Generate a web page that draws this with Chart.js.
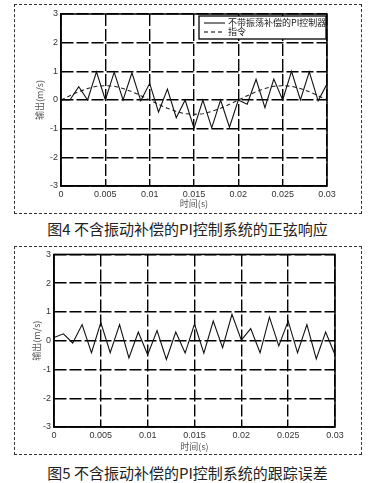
<!DOCTYPE html>
<html>
<head>
<meta charset="utf-8">
<script src="https://cdn.jsdelivr.net/npm/chart.js@4"></script>
<style>
  body { margin: 0; background: #fff; width: 375px; height: 483px; position: relative; overflow: hidden; }
  .box { position: absolute; left: 14px; width: 346px; border: 1px dashed #333; }
  .box canvas { position: absolute; left: -1px; top: -1px; }
  .cap { position: absolute; left: 0; width: 375px; text-align: center; font-family: "Noto Sans CJK SC", sans-serif; font-size: 15px; color: #222; }
</style>
</head>
<body>
<div class="box" style="top:4px;height:208px"><canvas id="c1" width="347" height="209"></canvas></div>
<div class="cap" style="top:218px">图4 不含振动补偿的PI控制系统的正弦响应</div>
<div class="box" style="top:246px;height:207px"><canvas id="c2" width="347" height="208"></canvas></div>
<div class="cap" style="top:462px">图5 不含振动补偿的PI控制系统的跟踪误差</div>
<script>
// time axis (s), one point every 0.001 s
const times = [0, 0.001, 0.002, 0.003, 0.004, 0.005, 0.006, 0.007, 0.008, 0.009, 0.01,
  0.011, 0.012, 0.013, 0.014, 0.015, 0.016, 0.017, 0.018, 0.019, 0.02,
  0.021, 0.022, 0.023, 0.024, 0.025, 0.026, 0.027, 0.028, 0.029, 0.03];

// fig 4: output of PI controller without vibration compensation
const piOutput = [0, 0, 0.46, 0, 0.98, 0, 0.97, 0, 0.95, -0.03, 0.58,
  -0.42, 0.38, -0.62, 0, -0.98, 0, -0.97, 0, -0.95, 0,
  -0.15, 0.72, -0.27, 0.73, 0, 1.0, 0, 0.98, -0.03, 0.56];
// fig 4: command signal
const command = [0, 0.15, 0.29, 0.40, 0.48, 0.5, 0.48, 0.40, 0.29, 0.15, 0,
  -0.15, -0.29, -0.40, -0.48, -0.5, -0.48, -0.40, -0.29, -0.15, 0,
  0.15, 0.29, 0.40, 0.48, 0.5, 0.48, 0.40, 0.29, 0.15, 0];
// fig 5: tracking error
const trackError = [0.11, 0.24, -0.08, 0.56, -0.42, 0.63, -0.42, 0.56, -0.6, 0.3, -0.49,
  0.35, -0.65, 0.3, -0.43, 0.58, -0.43, 0.68, -0.24, 0.92, 0.02,
  0.42, -0.42, 0.82, -0.18, 0.68, -0.42, 0.56, -0.63, 0.3, -0.49];

const xTickLabels = ['0', '0.005', '0.01', '0.015', '0.02', '0.025', '0.03'];
const yTickLabels = ['-3', '-2', '-1', '0', '1', '2', '3'];
const seriesNames = ['不带振荡补偿的PI控制器', '指令'];
const xTitle = '时间(s)';
const yTitle = '输出(m/s)';

const pts = (ys) => times.map((t, i) => ({ x: t, y: ys[i] }));

// solid frame round the plot area (top/right edges are only grid lines otherwise)
const framePlugin = {
  id: 'frame',
  afterDraw(chart) {
    const a = chart.chartArea, ctx = chart.ctx;
    ctx.save();
    ctx.strokeStyle = '#000';
    ctx.lineWidth = 1.5;
    ctx.setLineDash([]);
    ctx.strokeRect(a.left, a.top, a.right - a.left, a.bottom - a.top);
    ctx.restore();
  }
};

// boxed legend in the top right corner of the plot
const boxLegend = {
  id: 'boxLegend',
  afterDraw(chart) {
    if (!chart.options.plugins.boxLegend.show) return;
    const a = chart.chartArea, ctx = chart.ctx;
    const w = 127, h = 23;
    const left = a.right - w - 1, top = a.top + 2;
    ctx.save();
    ctx.fillStyle = '#fff';
    ctx.fillRect(left, top, w, h);
    ctx.strokeStyle = '#000';
    ctx.lineWidth = 1.3;
    ctx.strokeRect(left, top, w, h);
    ctx.font = '9px "Noto Sans CJK SC"';
    ctx.textBaseline = 'middle';
    chart.data.datasets.forEach((ds, i) => {
      const y = top + 7 + i * 9;
      ctx.beginPath();
      ctx.setLineDash(ds.borderDash || []);
      ctx.lineWidth = 1;
      ctx.moveTo(left + 5, y);
      ctx.lineTo(left + 26, y);
      ctx.stroke();
      ctx.setLineDash([]);
      ctx.fillStyle = '#222';
      ctx.fillText(ds.label, left + 29, y);
    });
    ctx.restore();
  }
};

function makeChart(id, datasets, lay, showLegend) {
  new Chart(document.getElementById(id), {
    type: 'line',
    data: { datasets: datasets },
    plugins: [framePlugin, boxLegend],
    options: {
      responsive: false,
      animation: false,
      layout: { padding: lay.pad },
      elements: { point: { radius: 0 }, line: { tension: 0 } },
      plugins: { legend: { display: false }, tooltip: { enabled: false }, boxLegend: { show: showLegend } },
      scales: {
        x: {
          type: 'linear', min: 0, max: 0.03,
          afterFit: s => { s.height = lay.xh; },
          ticks: { stepSize: 0.005, padding: 3, color: '#333', font: { family: 'Liberation Sans', size: 9 },
            maxRotation: 0, callback: (v, i) => xTickLabels[i] },
          grid: { color: '#000', lineWidth: 1.4, drawTicks: false },
          border: { color: '#000', width: 1.5, dash: [12, 3] },
          title: { display: true, text: xTitle, color: '#555', padding: 0, font: { family: 'Noto Sans CJK SC', size: 9 } }
        },
        y: {
          min: -3, max: 3,
          afterFit: s => { s.width = lay.yw; },
          ticks: { stepSize: 1, padding: 3, color: '#333', font: { family: 'Liberation Sans', size: 9 },
            callback: (v, i) => yTickLabels[i] },
          grid: { color: '#000', lineWidth: 1.4, drawTicks: false },
          border: { color: '#000', width: 1.5, dash: [12, 3] },
          title: { display: true, text: yTitle, color: '#555', padding: 0, font: { family: 'Noto Sans CJK SC', size: 9 } }
        }
      }
    }
  });
}

makeChart('c1', [
  { label: seriesNames[0], data: pts(piOutput), borderColor: '#111', borderWidth: 1.1 },
  { label: seriesNames[1], data: pts(command), borderColor: '#222', borderWidth: 1.1, borderDash: [4, 3] }
], { pad: { left: 20, right: 34, top: 10, bottom: 4 }, yw: 27, xh: 23 }, true);

makeChart('c2', [
  { label: seriesNames[0], data: pts(trackError), borderColor: '#111', borderWidth: 1.1 }
], { pad: { left: 17, right: 26, top: 6, bottom: 2 }, yw: 23, xh: 25 }, false);
</script>
</body>
</html>
